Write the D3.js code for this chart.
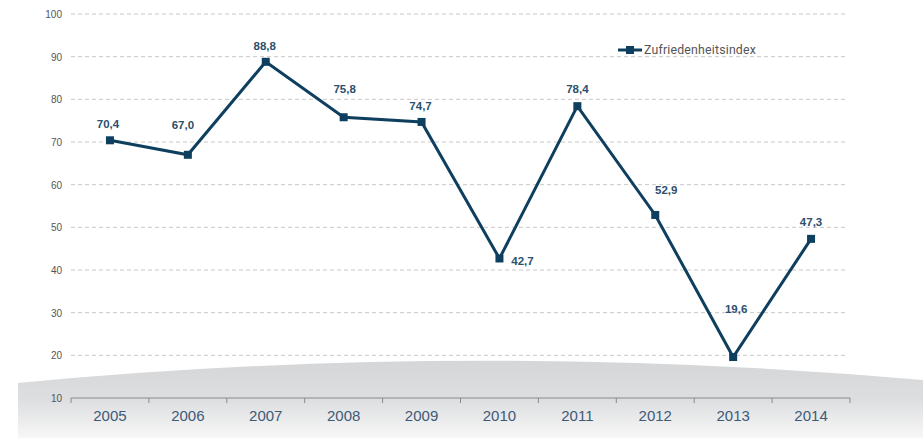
<!DOCTYPE html>
<html><head><meta charset="utf-8">
<script src="https://cdn.jsdelivr.net/npm/d3@7"></script>
<style>body{margin:0;background:#fff;}svg{display:block;}</style>
</head><body>
<svg id="c" width="923" height="438"></svg>
<script>
const years = ["2005","2006","2007","2008","2009","2010","2011","2012","2013","2014"];
const values = [70.4, 67.0, 88.8, 75.8, 74.7, 42.7, 78.4, 52.9, 19.6, 47.3];
const yTicks = [10,20,30,40,50,60,70,80,90,100];
const seriesName = "Zufriedenheitsindex";
// label placement (pixel offsets of label centre from its point)
const labelDx = [-2, -5, -1, 1, -1, 23, 0, 11, 3, 0];
const labelDy = [-16, -30, -16, -28, -16, 3, -17, -25, -48, -17];

const svg = d3.select("#c");
const x = d3.scaleBand().domain(years).range([71, 850]);
const y = d3.scaleLinear().domain([10, 100]).range([398, 14]);

// background swoosh
const defs = svg.append("defs");
const g1 = defs.append("linearGradient").attr("id","bg").attr("x1",0).attr("y1",0).attr("x2",0).attr("y2",1);
g1.append("stop").attr("offset","0%").attr("stop-color","#d5d6d8");
g1.append("stop").attr("offset","50%").attr("stop-color","#dddee0");
g1.append("stop").attr("offset","100%").attr("stop-color","#f7f7f7");
svg.append("path")
  .attr("d","M18,383 Q470,340 923,380 L923,438 L18,438 Z")
  .attr("fill","url(#bg)");

// gridlines
svg.append("g").selectAll("line").data(yTicks.filter(d=>d>10)).join("line")
  .attr("x1",71).attr("x2",848)
  .attr("y1",d=>y(d)).attr("y2",d=>y(d))
  .attr("stroke","#c8c8c8").attr("stroke-dasharray","4,3").attr("stroke-width",1);

// y labels
svg.append("g").selectAll("text").data(yTicks).join("text")
  .attr("x",62).attr("y",d=>y(d)+4)
  .attr("text-anchor","end")
  .attr("font-family","Arial, Liberation Sans, sans-serif").attr("font-size",10)
  .attr("fill","#555").text(d=>d);

// x axis
const xAxis = d3.axisBottom(x).tickSize(0).tickPadding(12);
const ax = svg.append("g").attr("transform","translate(0,398)").call(xAxis);
ax.select(".domain").attr("stroke","#8a8a8a").attr("d","M71,0H850");
ax.selectAll("text").attr("font-family","Arial, Liberation Sans, sans-serif").attr("font-size",15).attr("fill","#3d5a77");
const bounds = years.map(d=>x(d)).concat([x(years[years.length-1])+x.bandwidth()]);
svg.append("g").selectAll("line").data(bounds).join("line")
  .attr("x1",d=>d).attr("x2",d=>d).attr("y1",398).attr("y2",403)
  .attr("stroke","#8a8a8a");

// line
const cx = d=>x(d)+x.bandwidth()/2;
const line = d3.line().x((d,i)=>cx(years[i])).y(d=>y(d));
svg.append("path").datum(values).attr("d",line)
  .attr("fill","none").attr("stroke","#0f3f5f").attr("stroke-width",3).attr("stroke-linejoin","miter");
svg.append("g").selectAll("rect").data(values).join("rect")
  .attr("x",(d,i)=>cx(years[i])-4).attr("y",d=>y(d)-4)
  .attr("width",8).attr("height",8).attr("fill","#0f3f5f");

// data labels
const fmt = d=>d.toFixed(1).replace(".",",");
svg.append("g").selectAll("text").data(values).join("text")
  .attr("x",(d,i)=> cx(years[i]) + labelDx[i])
  .attr("y",(d,i)=> y(d) + labelDy[i] + 4)
  .attr("text-anchor","middle")
  .attr("font-family","Arial, Liberation Sans, sans-serif").attr("font-size",11.5).attr("font-weight","bold")
  .attr("fill","#2b4f6d").text(fmt);

// legend
const lg = svg.append("g");
lg.append("line").attr("x1",618).attr("x2",642).attr("y1",50).attr("y2",50).attr("stroke","#0f3f5f").attr("stroke-width",3);
lg.append("rect").attr("x",626).attr("y",46).attr("width",8).attr("height",8).attr("fill","#0f3f5f");
lg.append("text").attr("x",644).attr("y",54).attr("font-family","Roboto, Arial, sans-serif").attr("font-size",12.3)
  .attr("letter-spacing","0.2").attr("fill","#555").text(seriesName);
</script>
</body></html>
